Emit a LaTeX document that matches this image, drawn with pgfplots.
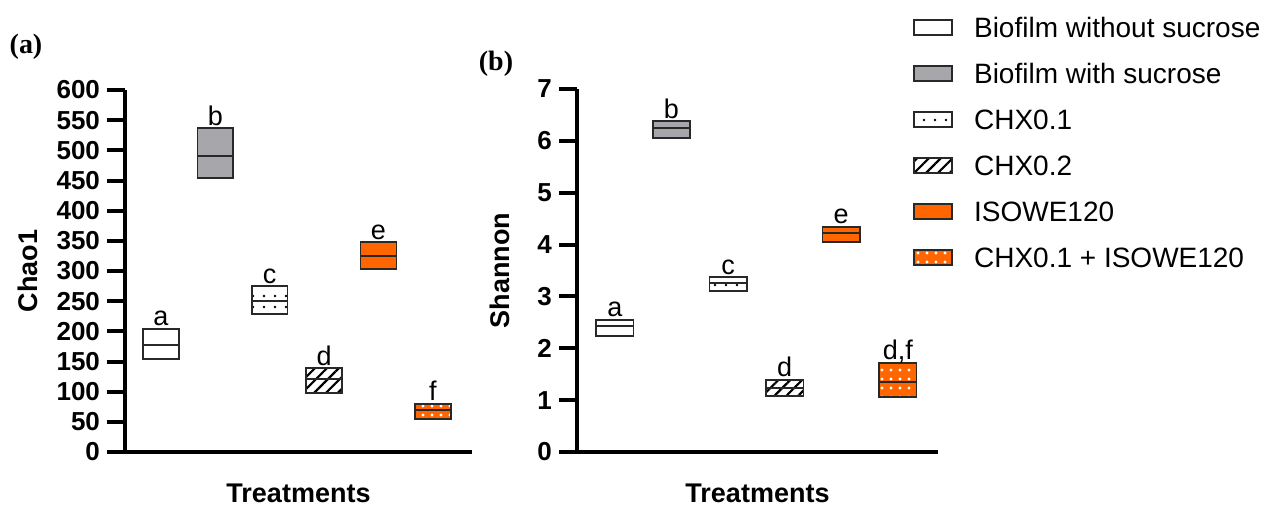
\documentclass[border=0pt]{standalone}
\usepackage{pgfplots}
\pgfplotsset{compat=1.18}
\usetikzlibrary{patterns.meta}
\usepackage{fontspec}
\setmainfont{Liberation Sans}
\newfontfamily\serifbold{Liberation Serif}
\definecolor{boxgray}{RGB}{166,166,171}
\definecolor{isoorange}{RGB}{255,102,0}
\definecolor{edge}{RGB}{40,40,40}
\tikzset{
 s1/.style={draw=edge, line width=0.8pt, fill=white},
 s2/.style={draw=edge, line width=0.8pt, fill=boxgray},
 s3/.style={draw=edge, line width=0.8pt, preaction={fill=white}, pattern={Dots[distance=5.5pt, radius=0.7pt]}, pattern color=black},
 s4/.style={draw=edge, line width=0.8pt, preaction={fill=white}, pattern={Lines[angle=45, distance=4.2pt, line width=1.1pt]}, pattern color=black},
 s5/.style={draw=edge, line width=0.8pt, fill=isoorange},
 s6/.style={draw=edge, line width=0.8pt, preaction={fill=isoorange}, pattern={Dots[distance=4.5pt, radius=0.8pt]}, pattern color=white},
 med/.style={draw=edge, line width=0.8pt},
}
\pgfplotsset{
 panel/.style={
  scale only axis,
  axis x line=bottom, axis y line=left,
  axis line style={line width=2pt, -},
  ytick style={line width=2pt, black},
  tick align=outside, major tick length=9pt,
  xtick=\empty, clip=false,
  /pgf/number format/assume math mode=true,
  yticklabel style={font=\fontsize{13}{15}\selectfont\bfseries},
  label style={font=\fontsize{13.5}{16}\selectfont\bfseries},
  xlabel={Treatments},
 },
}
\newcommand{\lab}[3]{\node[anchor=base, yshift=1.5pt, font=\fontsize{13.5}{15}\selectfont] at (axis cs:#1,#2) {#3};}
\begin{document}
\begin{tikzpicture}
\useasboundingbox (0,0) rectangle (633pt,252.5pt);
\node[font=\fontsize{14}{16}\selectfont\serifbold\bfseries] at (13pt,229pt) {(a)};
\node[font=\fontsize{14}{16}\selectfont\serifbold\bfseries] at (248pt,220.5pt) {(b)};
% ---------- panel (a)
\begin{axis}[panel, at={(62.5pt,26.5pt)}, anchor=south west,
  width=173.5pt, height=181pt,
  xmin=0.34, xmax=6.72, ymin=0, ymax=600,
  ytick={0,50,...,600},
  ylabel={Chao1},
  ylabel style={at={(axis description cs:-0.28,0.5)}, anchor=center},
  xlabel style={at={(axis description cs:0.5,-0.113)}, anchor=center}]
\addplot[s1] coordinates {(0.67,154) (1.33,154) (1.33,204) (0.67,204)} --cycle;
\addplot[med] coordinates {(0.67,177) (1.33,177)};
\addplot[s2] coordinates {(1.67,454) (2.33,454) (2.33,537) (1.67,537)} --cycle;
\addplot[med] coordinates {(1.67,491) (2.33,491)};
\addplot[s3] coordinates {(2.67,229) (3.33,229) (3.33,275) (2.67,275)} --cycle;
\addplot[med] coordinates {(2.67,250) (3.33,250)};
\addplot[s4] coordinates {(3.67,98) (4.33,98) (4.33,139) (3.67,139)} --cycle;
\addplot[med] coordinates {(3.67,121) (4.33,121)};
\addplot[s5] coordinates {(4.67,303) (5.33,303) (5.33,348) (4.67,348)} --cycle;
\addplot[med] coordinates {(4.67,325) (5.33,325)};
\addplot[s6] coordinates {(5.67,55) (6.33,55) (6.33,80) (5.67,80)} --cycle;
\addplot[med] coordinates {(5.67,70) (6.33,70)};
\lab{1}{204}{a}
\lab{2}{537}{b}
\lab{3}{275}{c}
\lab{4}{139}{d}
\lab{5}{348}{e}
\lab{6}{80}{f}
\end{axis}
% ---------- panel (b)
\begin{axis}[panel, at={(288.5pt,26.5pt)}, anchor=south west,
  width=180.5pt, height=181.5pt,
  xmin=0.33, xmax=6.71, ymin=0, ymax=7,
  ytick={0,1,...,7},
  ylabel={Shannon},
  ylabel style={at={(axis description cs:-0.213,0.5)}, anchor=center},
  xlabel style={at={(axis description cs:0.5,-0.113)}, anchor=center},
  legend image code/.code={\draw[#1] (0pt,-2.35pt) rectangle (19pt,5.15pt);},
  legend cell align=left,
  legend style={at={(axis description cs:0.931,1.198)}, anchor=north west,
    draw=none, fill=none, inner sep=0pt, row sep=10pt, column sep=10.5pt,
    font=\fontsize{14}{16}\selectfont,
    nodes={inner sep=0pt, text height=10pt, text depth=3pt}}]
\addlegendimage{s1}\addlegendentry{Biofilm without sucrose}
\addlegendimage{s2}\addlegendentry{Biofilm with sucrose}
\addlegendimage{s3}\addlegendentry{CHX0.1}
\addlegendimage{s4}\addlegendentry{CHX0.2}
\addlegendimage{s5}\addlegendentry{ISOWE120}
\addlegendimage{s6}\addlegendentry{CHX0.1 + ISOWE120}
\addplot[s1, forget plot] coordinates {(0.67,2.24) (1.33,2.24) (1.33,2.55) (0.67,2.55)} --cycle;
\addplot[med, forget plot] coordinates {(0.67,2.43) (1.33,2.43)};
\addplot[s2, forget plot] coordinates {(1.67,6.05) (2.33,6.05) (2.33,6.38) (1.67,6.38)} --cycle;
\addplot[med, forget plot] coordinates {(1.67,6.25) (2.33,6.25)};
\addplot[s3, forget plot] coordinates {(2.67,3.10) (3.33,3.10) (3.33,3.37) (2.67,3.37)} --cycle;
\addplot[med, forget plot] coordinates {(2.67,3.26) (3.33,3.26)};
\addplot[s4, forget plot] coordinates {(3.67,1.08) (4.33,1.08) (4.33,1.39) (3.67,1.39)} --cycle;
\addplot[med, forget plot] coordinates {(3.67,1.23) (4.33,1.23)};
\addplot[s5, forget plot] coordinates {(4.67,4.05) (5.33,4.05) (5.33,4.34) (4.67,4.34)} --cycle;
\addplot[med, forget plot] coordinates {(4.67,4.22) (5.33,4.22)};
\addplot[s6, forget plot] coordinates {(5.67,1.06) (6.33,1.06) (6.33,1.72) (5.67,1.72)} --cycle;
\addplot[med, forget plot] coordinates {(5.67,1.35) (6.33,1.35)};
\lab{1}{2.55}{a}
\lab{2}{6.38}{b}
\lab{3}{3.37}{c}
\lab{4}{1.39}{d}
\lab{5}{4.34}{e}
\lab{6}{1.72}{d,f}
\end{axis}
\end{tikzpicture}
\end{document}
